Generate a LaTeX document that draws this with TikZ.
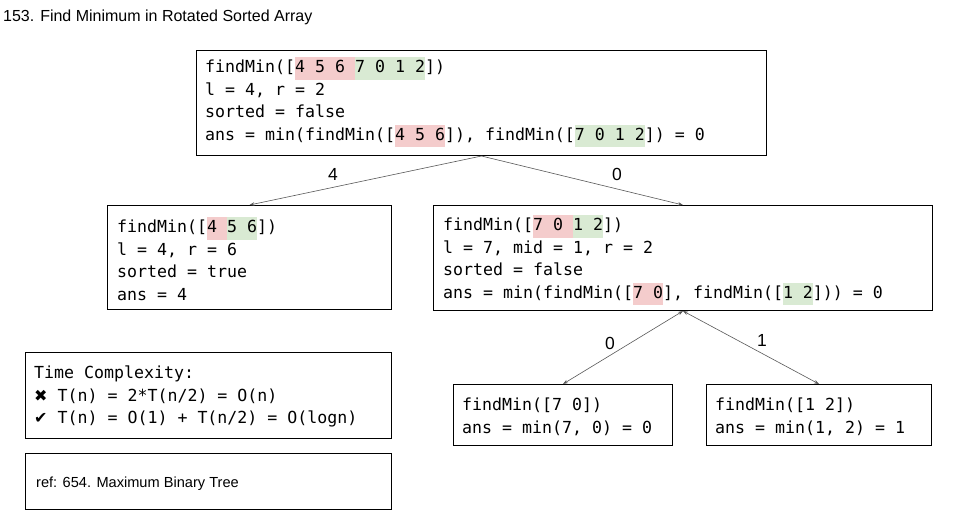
\documentclass[tikz,border=0pt]{standalone}
\usepackage{fontspec}
\setmainfont{Liberation Sans}
\newfontfamily\codefont{DejaVu Sans Mono}
\newfontfamily\symfont{DejaVu Sans}
\usetikzlibrary{arrows.meta,calc}
\definecolor{hlred}{HTML}{F4CCCC}
\definecolor{hlgreen}{HTML}{D9EAD3}
\definecolor{edgegray}{HTML}{595959}
\newcommand\codeset{\codefont\fontsize{16.6}{22.5}\selectfont}
\newcommand\hlR[1]{{\setlength{\fboxsep}{0pt}\colorbox{hlred}{\strut#1}}}
\newcommand\hlG[1]{{\setlength{\fboxsep}{0pt}\colorbox{hlgreen}{\strut#1}}}
\newcommand\symx{{\symfont\fontsize{16}{22.5}\selectfont ✖}}
\newcommand\symv{{\symfont\fontsize{16}{22.5}\selectfont ✔}}
\tikzset{
  box/.style={draw=black, line width=1pt, anchor=north west, inner sep=0pt},
  code/.style={anchor=north west, inner sep=0pt, align=left, font=\codeset},
  edge/.style={draw=edgegray, line width=0.6pt},
  tip/.style={-{Stealth[length=5pt,width=3.5pt]}},
  tips/.style={{Stealth[length=5pt,width=3.5pt]}-{Stealth[length=5pt,width=3.5pt]}},
  lbl/.style={font=\fontsize{17.5}{20}\selectfont, inner sep=0pt},
  plain/.style={inner sep=0pt, anchor=west},
}
\begin{document}
\begin{tikzpicture}[x=1pt,y=-1pt]
\useasboundingbox[fill=white] (0,0) rectangle (955,512);

\node[plain, font=\fontsize{16}{18}\selectfont] (title) at (3,17) {153. Find Minimum in Rotated Sorted Array};

% boxes
\node[box, minimum width=570pt, minimum height=105pt] (root) at (196,50) {};
\node[box, minimum width=284pt, minimum height=104pt] (lc) at (107,205) {};
\node[box, minimum width=499pt, minimum height=105pt] (rc) at (433,205) {};
\node[box, minimum width=219pt, minimum height=61pt] (blc) at (453,384) {};
\node[box, minimum width=225pt, minimum height=61pt] (brc) at (706,384) {};
\node[box, minimum width=366pt, minimum height=86pt] (tc) at (25,352) {};
\node[box, minimum width=366pt, minimum height=56pt] (refbox) at (25,453) {};

% texts
\node[code] (roottxt) at (205,57) {findMin([\hlR{4 5 6 }\hlG{7 0 1 2}])\\
\strut l = 4, r = 2\\
\strut sorted = false\\
\strut ans = min(findMin([\hlR{4 5 6}]), findMin([\hlG{7 0 1 2}]) = 0};

\node[code] (lctxt) at (117,217) {findMin([\hlR{4 }\hlG{5 6}])\\
\strut l = 4, r = 6\\
\strut sorted = true\\
\strut ans = 4};

\node[code] (rctxt) at (443,215) {findMin([\hlR{7 0 }\hlG{1 2}])\\
\strut l = 7, mid = 1, r = 2\\
\strut sorted = false\\
\strut ans = min(findMin([\hlR{7 0}], findMin([\hlG{1 2}])) = 0};

\node[code] (blctxt) at (462,395) {\strut findMin([7 0])\\
\strut ans = min(7, 0) = 0};

\node[code] (brctxt) at (715,395) {\strut findMin([1 2])\\
\strut ans = min(1, 2) = 1};

\node[code] (tctxt) at (34,363) {\strut Time Complexity:\\
\strut\symx{} T(n) = 2*T(n/2) = O(n)\\
\strut\symv{} T(n) = O(1) + T(n/2) = O(logn)};

\node[plain, font=\fontsize{14.6}{17}\selectfont] (reftxt) at (36,484) {ref: 654. Maximum Binary Tree};

% edges
\draw[edge, tip] (root.south) -- (lc.north);
\draw[edge, tip] (root.south) -- (rc.north);
\draw[edge, tips] (rc.south) -- (blc.north);
\draw[edge, tips] (rc.south) -- (brc.north);

\node[lbl] (l4) at (333,174) {4};
\node[lbl] (l0a) at (617,174) {0};
\node[lbl] (l0b) at (610,343) {0};
\node[lbl] (l1) at (762,340) {1};
\end{tikzpicture}
\end{document}
